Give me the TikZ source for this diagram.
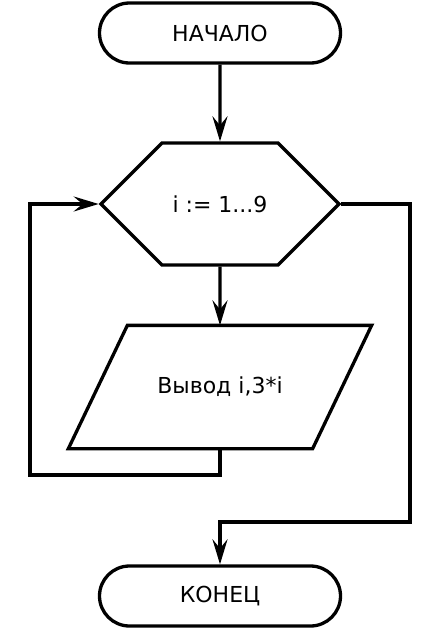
\documentclass[tikz,border=0pt]{standalone}
\usepackage{fontspec}
\setmainfont{DejaVu Sans}
\usetikzlibrary{shapes.geometric,shapes.symbols,arrows.meta,positioning}

\begin{document}
\begin{tikzpicture}[x=1pt, y=-1pt, font=\fontsize{22}{26}\selectfont, line width=3.3pt,
  term/.style={draw, rounded corners=30pt, minimum width=241pt, minimum height=60pt},
  loopbox/.style={draw, signal, signal to=east and west, signal pointer angle=90, minimum width=238pt, minimum height=122pt},
  iobox/.style={minimum width=241pt, minimum height=120pt},
  arr/.style={-{Stealth[length=25pt,width=15pt,inset=9pt]}}]
  \useasboundingbox (0,0) rectangle (440,632);
  \node[term] (start) at (220,33) {НАЧАЛО};
  \node[loopbox] (loop) at (220,204) {i := 1...9};
  \node[iobox] (out) at (220,387) {Вывод i,3*i};
  \node[term] (stop) at (220,596) {КОНЕЦ};
  % parallelogram round the output node
  \draw ([xshift=29.5pt]out.north west) -- ([xshift=29.5pt]out.north east)
    -- ([xshift=-29.5pt]out.south east) -- ([xshift=-29.5pt]out.south west) -- cycle;
  \coordinate (back) at (30,475);
  \coordinate (exit) at (410,522);
  \draw[arr] (start) -- (loop);
  \draw[arr] (loop) -- (out);
  \draw[arr] (out.south) |- (back) |- (loop.west);
  \draw[arr] (loop.east) -| (exit) -| (stop.north);
\end{tikzpicture}
\end{document}
